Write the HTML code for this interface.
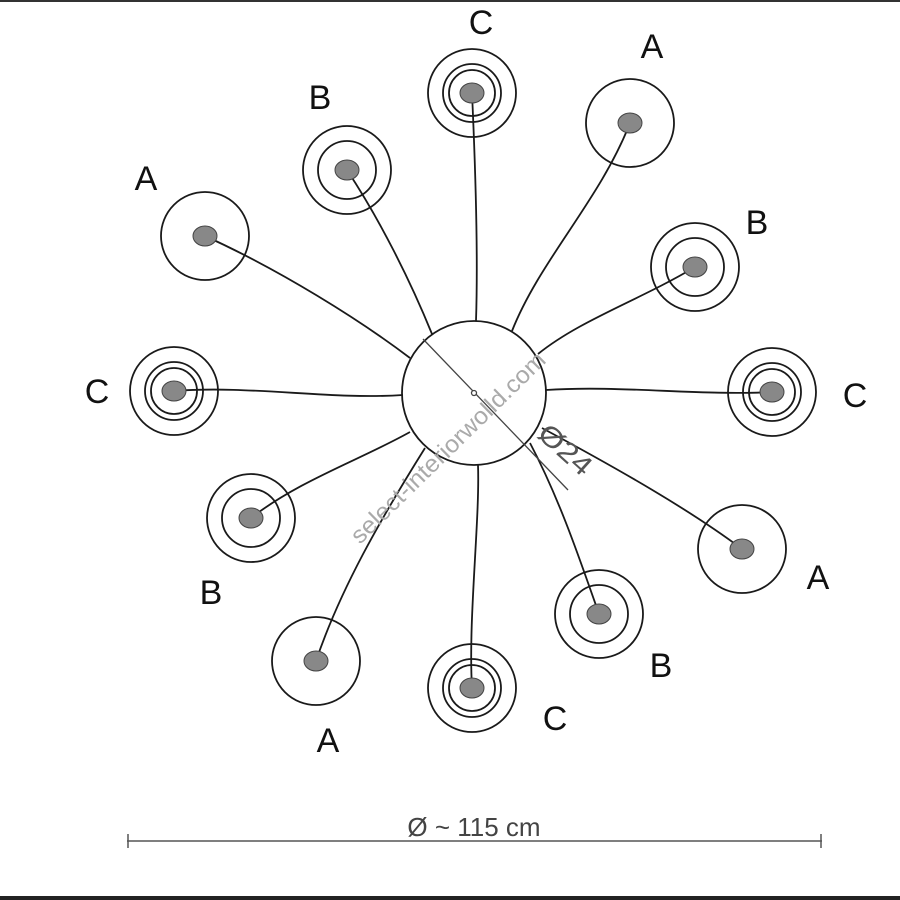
<!DOCTYPE html>
<html><head><meta charset="utf-8"><style>
html,body{margin:0;padding:0;background:#fff}
svg{display:block}
text{font-family:"Liberation Sans",Arial,sans-serif}
</style></head><body>
<svg width="900" height="900" viewBox="0 0 900 900" xmlns="http://www.w3.org/2000/svg">
<rect x="0" y="0" width="900" height="2" fill="#333"/>
<rect x="0" y="896" width="900" height="4" fill="#222"/>
<g fill="none" stroke="#1a1a1a" stroke-width="1.8">
<path d="M472,93 C476,180 478,260 476,321"/>
<path d="M630,123 C600,200 540,260 512,331"/>
<path d="M695,267 C640,300 580,320 538,354"/>
<path d="M772,392 C700,396 620,385 546,390"/>
<path d="M742,549 C690,510 620,470 542,428"/>
<path d="M599,614 C580,560 560,500 530,443"/>
<path d="M472,688 C468,620 480,520 478,465"/>
<path d="M316,661 C340,590 380,520 425,448"/>
<path d="M251,518 C300,480 360,460 410,432"/>
<path d="M174,391 C250,385 330,400 403,395"/>
<path d="M205,236 C280,270 360,320 410,358"/>
<path d="M347,170 C380,220 410,280 432,334"/>
<circle cx="474" cy="393" r="72"/>
<circle cx="630" cy="123" r="44"/>
<circle cx="742" cy="549" r="44"/>
<circle cx="316" cy="661" r="44"/>
<circle cx="205" cy="236" r="44"/>
<circle cx="695" cy="267" r="44"/><circle cx="695" cy="267" r="29"/>
<circle cx="599" cy="614" r="44"/><circle cx="599" cy="614" r="29"/>
<circle cx="251" cy="518" r="44"/><circle cx="251" cy="518" r="29"/>
<circle cx="347" cy="170" r="44"/><circle cx="347" cy="170" r="29"/>
<circle cx="472" cy="93" r="44"/><circle cx="472" cy="93" r="29"/><circle cx="472" cy="93" r="23"/>
<circle cx="772" cy="392" r="44"/><circle cx="772" cy="392" r="29"/><circle cx="772" cy="392" r="23"/>
<circle cx="472" cy="688" r="44"/><circle cx="472" cy="688" r="29"/><circle cx="472" cy="688" r="23"/>
<circle cx="174" cy="391" r="44"/><circle cx="174" cy="391" r="29"/><circle cx="174" cy="391" r="23"/>
</g>
<g fill="#888" stroke="#444" stroke-width="1">
<ellipse cx="472" cy="93" rx="12" ry="10"/>
<ellipse cx="630" cy="123" rx="12" ry="10"/>
<ellipse cx="695" cy="267" rx="12" ry="10"/>
<ellipse cx="772" cy="392" rx="12" ry="10"/>
<ellipse cx="742" cy="549" rx="12" ry="10"/>
<ellipse cx="599" cy="614" rx="12" ry="10"/>
<ellipse cx="472" cy="688" rx="12" ry="10"/>
<ellipse cx="316" cy="661" rx="12" ry="10"/>
<ellipse cx="251" cy="518" rx="12" ry="10"/>
<ellipse cx="174" cy="391" rx="12" ry="10"/>
<ellipse cx="205" cy="236" rx="12" ry="10"/>
<ellipse cx="347" cy="170" rx="12" ry="10"/>
</g>
<g stroke="#444" stroke-width="1.3" fill="none">
<line x1="423" y1="339" x2="568" y2="490"/>
<circle cx="474" cy="393" r="2.5" fill="#fff"/>
</g>
<text x="0" y="0" font-size="28" fill="#555" textLength="62" lengthAdjust="spacingAndGlyphs" transform="translate(536,436) rotate(42)">Ø24</text>
<text x="0" y="0" font-size="24" fill="#aaa" textLength="262" lengthAdjust="spacingAndGlyphs" transform="translate(360,545) rotate(-44.4)">select-interiorwolld.com</text>
<g font-size="34" fill="#111" text-anchor="middle">
<text x="481" y="34">C</text>
<text x="652" y="58">A</text>
<text x="320" y="109">B</text>
<text x="146" y="190">A</text>
<text x="757" y="234">B</text>
<text x="97" y="403">C</text>
<text x="855" y="407">C</text>
<text x="818" y="589">A</text>
<text x="211" y="604">B</text>
<text x="661" y="677">B</text>
<text x="555" y="730">C</text>
<text x="328" y="752">A</text>
</g>
<g stroke="#555" stroke-width="1.5">
<line x1="127" y1="841" x2="822" y2="841"/>
<line x1="128" y1="834" x2="128" y2="848"/>
<line x1="821" y1="834" x2="821" y2="848"/>
</g>
<text x="474" y="836" font-size="26" fill="#444" text-anchor="middle">Ø ~ 115 cm</text>
</svg>
</body></html>
